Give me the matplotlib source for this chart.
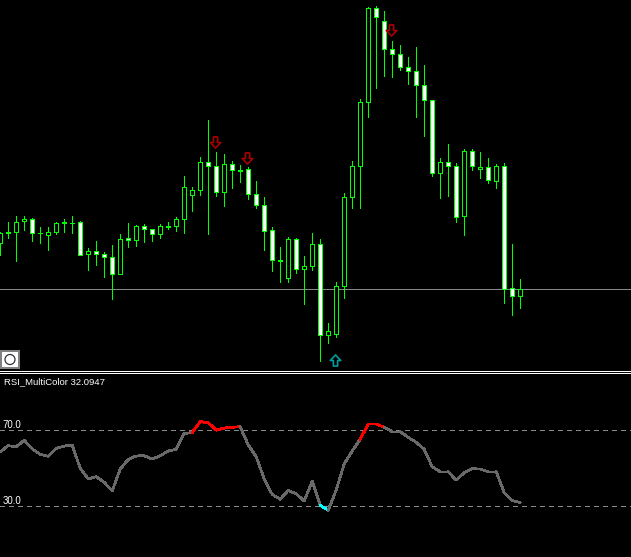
import matplotlib
matplotlib.use('Agg')
import matplotlib.pyplot as plt
from matplotlib.path import Path
from matplotlib.patches import Rectangle, Circle

# Candles, prices in chart points (no price scale is visible in the picture)
opens = [127, 138, 138, 149, 151, 137, 135, 138, 148, 147, 148, 116, 119, 116, 113, 96, 132, 130, 144, 141, 136, 144,
         144, 151, 175, 180, 208, 204, 178, 206, 200, 201, 176, 165, 140, 110, 92, 131, 101, 104, 126, 35, 36, 84,
         173, 204, 268, 362, 349, 321, 316, 303, 299, 285, 270, 197, 208, 204, 154, 219, 201, 203, 189, 204, 82, 74]
highs = [138, 148, 154, 154, 152, 143, 143, 148, 151, 154, 149, 122, 129, 118, 125, 136, 147, 145, 146, 141, 146, 148,
         153, 194, 183, 213, 250, 218, 216, 209, 205, 203, 189, 173, 143, 123, 133, 132, 114, 137, 131, 47, 88, 177,
         209, 271, 363, 364, 359, 329, 325, 313, 323, 305, 270, 212, 226, 207, 221, 221, 218, 212, 206, 207, 126, 91]
lows = [115, 132, 109, 140, 129, 127, 120, 136, 138, 137, 115, 100, 105, 93, 71, 96, 123, 124, 128, 129, 132, 141,
        139, 137, 159, 175, 136, 174, 164, 182, 188, 171, 162, 120, 99, 88, 88, 97, 66, 100, 9, 27, 33, 72,
        162, 162, 253, 282, 294, 293, 300, 286, 253, 234, 194, 172, 174, 148, 135, 200, 192, 187, 182, 67, 55, 62]
closes = [137, 137, 148, 151, 137, 137, 138, 147, 147, 147, 115, 119, 116, 113, 96, 131, 130, 144, 141, 136, 144, 143,
          151, 183, 180, 208, 204, 178, 206, 200, 199, 176, 165, 139, 110, 109, 131, 101, 104, 126, 35, 39, 84, 173,
          204, 268, 362, 353, 321, 316, 303, 299, 285, 270, 197, 208, 204, 153, 219, 204, 203, 190, 204, 81, 74, 81]

# RSI value of every bar
rsi = [58.8, 62.0, 61.5, 64.8, 60.3, 57.5, 56.4, 60.6, 61.8, 62.2, 50.1, 44.5, 45.7, 42.7, 38.2, 49.7, 54.8, 56.6,
       56.7, 55.0, 56.7, 59.2, 60.1, 68.4, 68.9, 74.7, 74.1, 70.2, 71.3, 71.7, 72.0, 62.4, 56.2, 44.5, 36.4, 33.8,
       38.5, 36.6, 32.9, 43.3, 30.6, 28.0, 38.7, 52.4, 59.2, 65.4, 73.4, 73.4, 71.7, 69.4, 69.4, 66.4, 63.8, 60.1,
       50.9, 48.3, 48.3, 43.9, 47.8, 49.9, 49.7, 48.3, 48.3, 37.3, 33.1, 32.0947]

# Signal arrows and the price line
sell_bars = [26.8, 30.8, 48.8]
sell_prices = [228, 212, 340]
buy_bars = [41.9]
buy_prices = [10]
level_price = 81
rsi_levels = [70, 30]

W, H = 631, 557
GREEN = '#00ff00'
fig = plt.figure(figsize=(W / 100, H / 100), dpi=100, facecolor='black')
plt.rcParams['font.family'] = ['Liberation Sans', 'DejaVu Sans']

# Price window
ax = fig.add_axes([0, (H - 370) / H, 1, 370 / H])
ax.set_facecolor('black')
ax.set_xlim(-0.2 / 8, (W - 0.2) / 8)
ax.set_ylim(0.2, 370.2)
ax.axis('off')

ax.axhline(level_price, color='#8a8a8a', lw=0.72, antialiased=False, zorder=1)

for i in range(len(opens)):
    ax.plot([i, i], [lows[i], highs[i]], color=GREEN, lw=0.72, antialiased=False, snap=True,
            solid_capstyle='butt', zorder=2)
    if closes[i] < opens[i]:
        fill = 'white'
    else:
        fill = 'black'
    bottom = min(opens[i], closes[i])
    height = abs(opens[i] - closes[i])
    if height == 0:
        # doji is just a short flat line
        ax.plot([i - 0.25, i + 0.25], [opens[i], opens[i]], color=GREEN, lw=0.72, antialiased=False, snap=True,
                solid_capstyle='butt', zorder=3)
    else:
        # body as an outlined box, fill first and then the four green sides
        ax.bar(i, height, bottom=bottom, width=0.5, facecolor=fill, edgecolor='none',
               antialiased=False, zorder=3)
        ax.plot([i - 0.25, i + 0.25, i + 0.25, i - 0.25, i - 0.25],
                [bottom, bottom, bottom + height, bottom + height, bottom],
                color=GREEN, lw=0.72, antialiased=False, snap=True, zorder=4)

# Hollow arrows
up_arrow = Path([(-0.38, -1), (0.38, -1), (0.38, 0), (0.95, 0), (0, 1), (-0.95, 0), (-0.38, 0), (-0.38, -1)], closed=True)
down_arrow = Path([(-0.38, 1), (0.38, 1), (0.38, 0), (0.95, 0), (0, -1), (-0.95, 0), (-0.38, 0), (-0.38, 1)], closed=True)
ax.plot(sell_bars, sell_prices, ls='none', marker=down_arrow, markersize=8, markerfacecolor='black',
        markeredgecolor='#a80000', markeredgewidth=1.2, zorder=5)
ax.plot(buy_bars, buy_prices, ls='none', marker=up_arrow, markersize=8, markerfacecolor='black',
        markeredgecolor='#009a9a', markeredgewidth=1.2, zorder=5)

# RSI window
ax2 = fig.add_axes([0, 0, 1, (H - 373) / H])
ax2.set_facecolor('black')
ax2.set_xlim(-0.2 / 8, (W - 0.2) / 8)
ax2.set_ylim(3.42, 100.26)
ax2.axis('off')

for level in rsi_levels:
    ax2.axhline(level, color='#8a8a8a', lw=0.72, ls=(0, (5, 5)), antialiased=False, zorder=1)
    ax2.text(2 / 8, level + 0.4, '%.1f' % level, color='white', fontsize=6.9, ha='left', va='bottom')

# Each stretch takes its colour from where it ends
for i in range(len(rsi) - 1):
    color = '#696969'
    if rsi[i + 1] > 70:
        color = '#ff0000'
    elif rsi[i + 1] < 30:
        color = '#00ffff'
    ax2.plot([i, i + 1], [rsi[i], rsi[i + 1]], color=color, lw=1.3, antialiased=False,
             solid_capstyle='round', zorder=2)

ax2.text(4 / 8, 95.6, 'RSI_MultiColor 32.0947', color='white', fontsize=6.8, ha='left', va='center')

# Window furniture: separator and the small button
ui = fig.add_axes([0, 0, 1, 1])
ui.set_xlim(0, W)
ui.set_ylim(H, 0)
ui.axis('off')
ui.patch.set_alpha(0)
ui.plot([0, W], [370.5, 370.5], color='white', lw=0.72, antialiased=False)
ui.plot([0, W], [372.5, 372.5], color='white', lw=0.72, antialiased=False)
ui.add_patch(Rectangle((1, 351), 18, 17, facecolor='white', edgecolor='#808080', lw=1.44))
ui.add_patch(Circle((10, 359.5), 5, facecolor='white', edgecolor='#30343a', lw=0.9))

fig.savefig('out.png', dpi=100, facecolor='black')
plt.close()
